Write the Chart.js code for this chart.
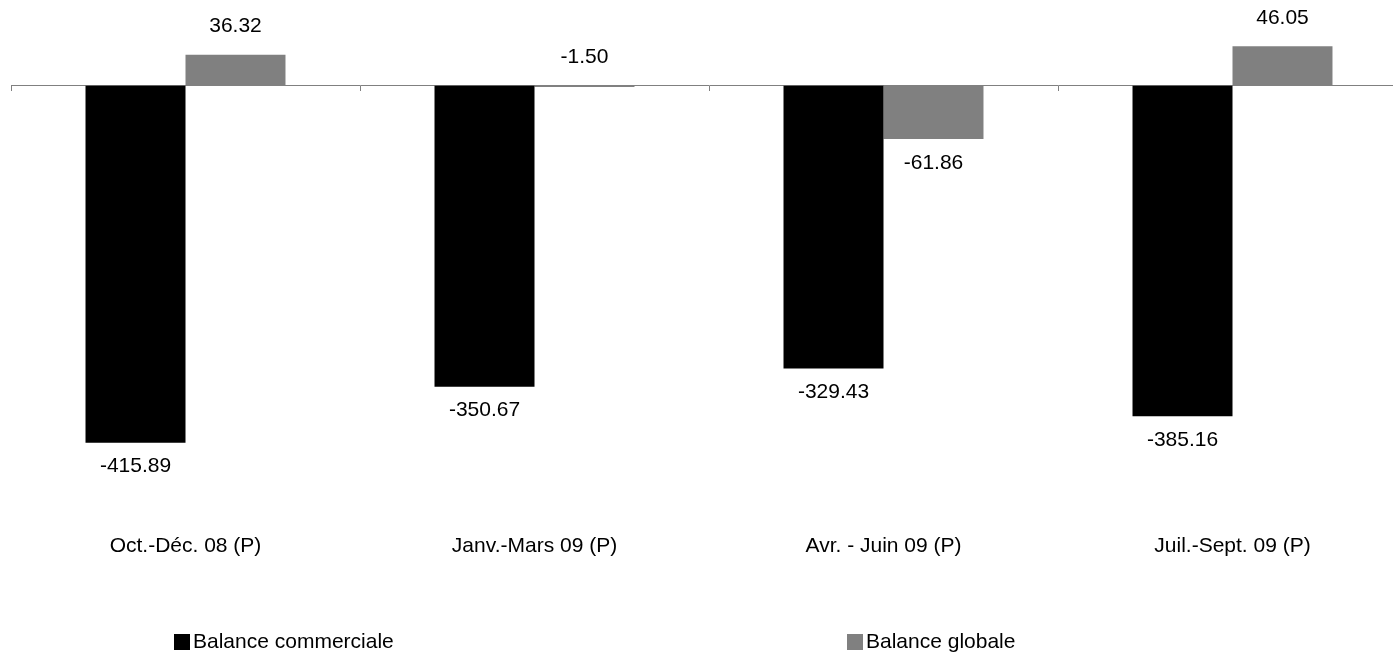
<!DOCTYPE html>
<html>
<head>
<meta charset="utf-8">
<script src="https://cdn.jsdelivr.net/npm/chart.js@4"></script>
<style>
  html, body { margin: 0; padding: 0; background: #fff; overflow: hidden; }
  #wrap { position: relative; width: 1393px; height: 653px; overflow: hidden; }
  #legend { position: absolute; left: 0; top: 0; width: 1393px; height: 653px; pointer-events: none;
            font-family: "Liberation Sans", Arial, sans-serif; font-size: 21px; color: #000; }
  .item { position: absolute; top: 629px; height: 24px; line-height: 24px; white-space: nowrap; }
  .box { display: inline-block; width: 16px; height: 16px; vertical-align: -2px; margin-right: 3px; }
</style>
</head>
<body>
<div id="wrap">
  <canvas id="myChart" width="1420" height="653"></canvas>
  <div id="legend"></div>
</div>
<script>
// categories and values
var categories = ["Oct.-Déc. 08 (P)", "Janv.-Mars 09 (P)", "Avr. - Juin 09 (P)", "Juil.-Sept. 09 (P)"];
var balanceCommerciale = [-415.89, -350.67, -329.43, -385.16];
var balanceGlobale = [36.32, -1.50, -61.86, 46.05];
var seriesNames = ["Balance commerciale", "Balance globale"];

Chart.defaults.font.family = '"Liberation Sans", Arial, sans-serif';
Chart.defaults.font.size = 21;
Chart.defaults.color = '#000';

// value labels, below negative bars and above positive ones
var valueLabels = {
  id: 'valueLabels',
  afterDatasetsDraw: function(chart) {
    var ctx = chart.ctx;
    var zero = chart.scales.y.getPixelForValue(0);
    ctx.save();
    ctx.font = '21px "Liberation Sans", Arial, sans-serif';
    ctx.fillStyle = '#000';
    ctx.textAlign = 'center';
    ctx.textBaseline = 'middle';
    chart.data.datasets.forEach(function(ds, i) {
      chart.getDatasetMeta(i).data.forEach(function(bar, j) {
        var v = ds.data[j];
        var y;
        if (v >= 0) y = bar.y - 28;
        else if (v > -10) y = zero - 29; // tiny bar: label sits above
        else y = bar.y + 24;
        ctx.fillText(v.toFixed(2), bar.x, y);
      });
    });
    ctx.restore();
  }
};

var ctx = document.getElementById('myChart').getContext('2d');
var chart = new Chart(ctx, {
  type: 'bar',
  data: {
    labels: categories,
    datasets: [{
      label: seriesNames[0],
      data: balanceCommerciale,
      backgroundColor: '#000000',
      borderWidth: 0
    }, {
      label: seriesNames[1],
      data: balanceGlobale,
      backgroundColor: '#808080',
      borderWidth: 0
    }]
  },
  options: {
    responsive: false,
    animation: false,
    datasets: { bar: { categoryPercentage: 0.573, barPercentage: 1 } },
    layout: { padding: { left: 11, right: 13, top: 0, bottom: 75 } },
    plugins: {
      legend: { display: false },
      tooltip: { enabled: false }
    },
    scales: {
      x: {
        grid: { display: false, drawTicks: false },
        border: { display: false },
        ticks: { padding: 19, maxRotation: 0, autoSkip: false }
      },
      // axis line at zero with the category tick marks
      x2: {
        type: 'category',
        labels: categories,
        position: { y: 0 },
        offset: true,
        grid: { offset: true, drawOnChartArea: false, color: '#808080', tickLength: 5, lineWidth: 1 },
        border: { display: true, color: '#808080', width: 1 },
        ticks: { display: false }
      },
      y: {
        display: false,
        min: -500,
        max: 100
      }
    }
  },
  plugins: [valueLabels]
});

// legend built from the datasets
var legend = document.getElementById('legend');
var legendX = [174, 847];
chart.data.datasets.forEach(function(ds, i) {
  var item = document.createElement('div');
  item.className = 'item';
  item.style.left = legendX[i] + 'px';
  var box = document.createElement('span');
  box.className = 'box';
  box.style.background = ds.backgroundColor;
  item.appendChild(box);
  item.appendChild(document.createTextNode(ds.label));
  legend.appendChild(item);
});
</script>
</body>
</html>
